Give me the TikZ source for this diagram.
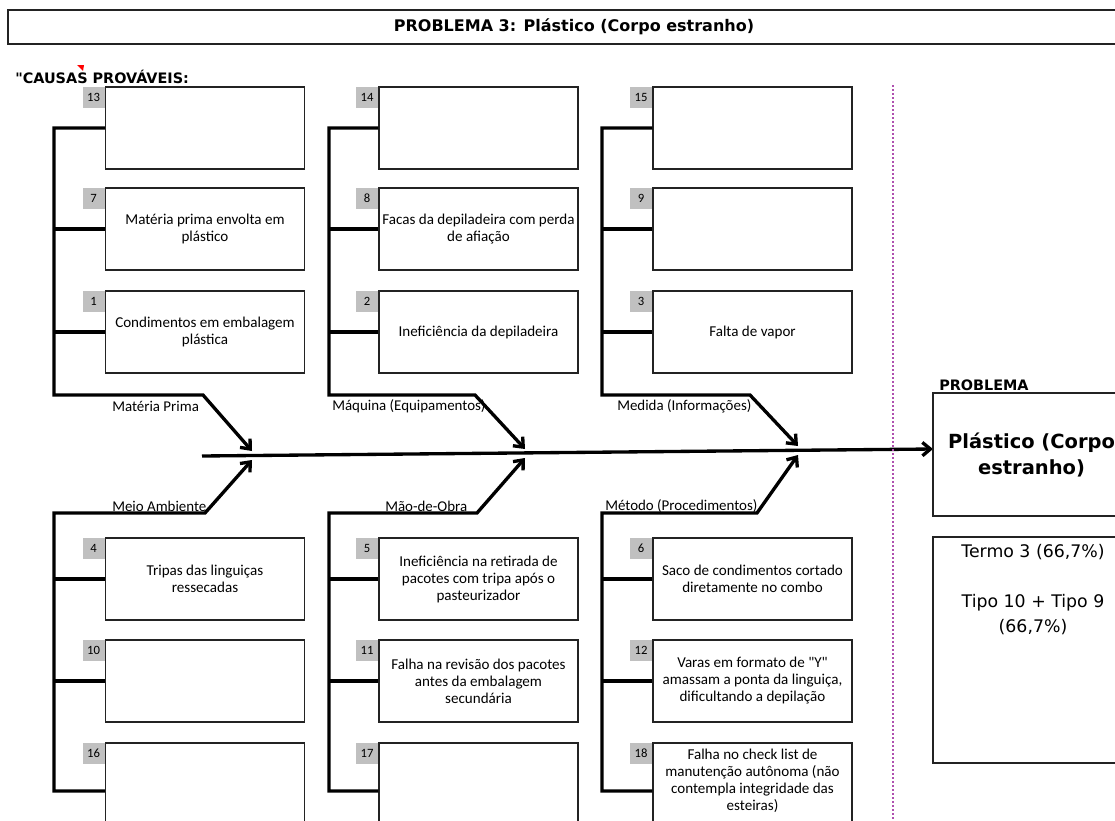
\documentclass[tikz,border=0pt]{standalone}
\usepackage{fontspec}
\setmainfont{Carlito}
\newfontfamily\tahoma{DejaVu Sans}
\usetikzlibrary{arrows.meta, positioning}
\definecolor{CinzaNum}{RGB}{192,192,192}
\definecolor{LinhaDiv}{RGB}{175,80,175}
\definecolor{Borda}{RGB}{35,35,35}

\tikzset{
  causa/.style={draw=Borda, line width=1.1pt, fill=white, minimum width=149.25pt,
    minimum height=61.5pt, align=center, inner sep=1pt,
    font=\fontsize{11.3}{12.75}\selectfont},
  causafim/.style={causa, minimum height=72pt},
  numero/.style={fill=CinzaNum, minimum width=16.5pt, minimum height=15.75pt,
    inner sep=0pt, anchor=north east, font=\fontsize{9.5}{10}\selectfont},
  num/.style={label={[numero, name=l#1]north west:#1}},
  espinha/.style={line width=2.5pt},
  seta/.style={espinha, -{Straight Barb[length=6pt,width=10pt]}},
  ramo/.style={anchor=west, inner sep=0pt, font=\fontsize{11.2}{12}\selectfont},
  cabeca/.style={anchor=west, inner sep=0pt, font=\tahoma\bfseries\fontsize{10.8}{12}\selectfont},
}

\begin{document}
\begin{tikzpicture}[x=0.75pt, y=-0.75pt]
    \useasboundingbox (0,0) rectangle (1115,821);
    \clip (0,0) rectangle (1115,821);
    \fill[white] (0,0) rectangle (1115,821);

    % Titulo
    \node[draw=Borda, line width=1.8pt, minimum width=849pt, minimum height=25.5pt,
        font=\tahoma\bfseries\fontsize{12}{14}\selectfont] (titulo) at (574,27)
        {PROBLEMA 3: Plástico (Corpo estranho)};
    \node[cabeca] (causas) at (15,77) {\textquotedbl CAUSAS PROVÁVEIS:};
    \fill[red] (77,65) -- (84,65) -- (83,71) -- cycle;

    % Causas de cima
    \node[causa, num=13] (c13) at (205,128) {};
    \node[causa, num=7] (c7) at (205,229) {Matéria prima envolta em\\plástico};
    \node[causa, num=1] (c1) at (205,332) {Condimentos em embalagem\\plástica};
    \node[causa, num=14] (c14) at (478.5,128) {};
    \node[causa, num=8] (c8) at (478.5,229) {Facas da depiladeira com perda\\de afiação};
    \node[causa, num=2] (c2) at (478.5,332) {Ineficiência da depiladeira};
    \node[causa, num=15] (c15) at (752.5,128) {};
    \node[causa, num=9] (c9) at (752.5,229) {};
    \node[causa, num=3] (c3) at (752.5,332) {Falta de vapor};

    % Causas de baixo
    \node[causa, num=4] (c4) at (205,579) {Tripas das linguiças\\ressecadas};
    \node[causa, num=10] (c10) at (205,681) {};
    \node[causafim, num=16] (c16) at (205,791) {};
    \node[causa, num=5] (c5) at (478.5,579) {Ineficiência na retirada de\\pacotes com tripa após o\\pasteurizador};
    \node[causa, num=11] (c11) at (478.5,681) {Falha na revisão dos pacotes\\antes da embalagem\\secundária};
    \node[causafim, num=17] (c17) at (478.5,791) {};
    \node[causa, num=6] (c6) at (752.5,579) {Saco de condimentos cortado\\diretamente no combo};
    \node[causa, num=12] (c12) at (752.5,681) {Varas em formato de \textquotedbl Y\textquotedbl\\amassam a ponta da linguiça,\\dificultando a depilação};
    \node[causafim, num=18] (c18) at (752.5,791) {};
    \node[anchor=north, align=center, inner sep=0pt, font=\fontsize{11.3}{12.75}\selectfont]
        (t18) at (752.5,749) {Falha no check list de\\manutenção autônoma (não\\contempla integridade das\\esteiras)};

    % Pontos das espinhas
    \coordinate (m0) at (202,456);
    \coordinate (m1) at (933,449);
    \coordinate (e1) at (54,395);   \coordinate (d1) at (203,395); \coordinate (p1) at (252,451);
    \coordinate (e2) at (329,395);  \coordinate (d2) at (475,395); \coordinate (p2) at (525,449);
    \coordinate (e3) at (602,395);  \coordinate (d3) at (750,395); \coordinate (p3) at (798,446);
    \coordinate (e4) at (54,513);   \coordinate (d4) at (205,513); \coordinate (p4) at (252,460);
    \coordinate (e5) at (329,513);  \coordinate (d5) at (477,513); \coordinate (p5) at (525,458);
    \coordinate (e6) at (602,513);  \coordinate (d6) at (757,513); \coordinate (p6) at (798,455);

    % Espinhas de cima
    \draw[seta] (c13.west) -| (e1) -- (d1) -- (p1);
    \draw[espinha] (c7.west) -- (c7.west -| e1);
    \draw[espinha] (c1.west) -- (c1.west -| e1);
    \draw[seta] (c14.west) -| (e2) -- (d2) -- (p2);
    \draw[espinha] (c8.west) -- (c8.west -| e2);
    \draw[espinha] (c2.west) -- (c2.west -| e2);
    \draw[seta] (c15.west) -| (e3) -- (d3) -- (p3);
    \draw[espinha] (c9.west) -- (c9.west -| e3);
    \draw[espinha] (c3.west) -- (c3.west -| e3);

    % Espinhas de baixo
    \draw[seta] (c16.west) -| (e4) -- (d4) -- (p4);
    \draw[espinha] (c10.west) -- (c10.west -| e4);
    \draw[espinha] (c4.west) -- (c4.west -| e4);
    \draw[seta] (c17.west) -| (e5) -- (d5) -- (p5);
    \draw[espinha] (c11.west) -- (c11.west -| e5);
    \draw[espinha] (c5.west) -- (c5.west -| e5);
    \draw[seta] (c18.west) -| (e6) -- (d6) -- (p6);
    \draw[espinha] (c12.west) -- (c12.west -| e6);
    \draw[espinha] (c6.west) -- (c6.west -| e6);

    % Espinha central
    \draw[seta] (m0) -- (m1);

    % Nomes dos ramos
    \node[ramo] (r1) at (112,406) {Matéria Prima};
    \node[ramo] (r2) at (332,406) {Máquina (Equipamentos)};
    \node[ramo] (r3) at (617,406) {Medida (Informações)};
    \node[ramo] (r4) at (112,506) {Meio Ambiente};
    \node[ramo] (r5) at (385,506) {Mão-de-Obra};
    \node[ramo] (r6) at (605,506) {Método (Procedimentos)};

    % Separador
    \draw[LinhaDiv, line width=1.3pt, dash pattern=on 1.5pt off 1.5pt] (893,85) -- (893,821);

    % Problema
    \node[cabeca] (problema) at (939,385) {PROBLEMA};
    \node[draw=Borda, line width=1.1pt, minimum width=147.75pt, minimum height=92.25pt,
        align=center, font=\tahoma\bfseries\fontsize{14.6}{19.5}\selectfont] (prob)
        at (1031.5,454.5) {Plástico (Corpo\\estranho)};
    \node[draw=Borda, line width=1.1pt, minimum width=150pt, minimum height=169.5pt]
        (res) at (1033,650) {};
    \node[anchor=north, align=center, inner sep=0pt,
        font=\tahoma\fontsize{13}{18.75}\selectfont] (restxt) at (1033,544)
        {Termo 3 (66,7\%)\\[18.75pt]Tipo 10 + Tipo 9\\(66,7\%)};
\end{tikzpicture}
\end{document}
